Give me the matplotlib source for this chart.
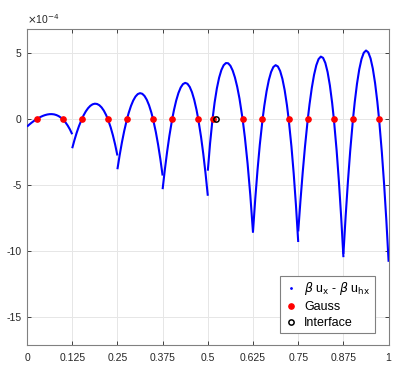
import matplotlib
matplotlib.use("Agg")
import matplotlib.pyplot as plt
from matplotlib.lines import Line2D

plt.rcParams['font.family'] = ['Liberation Sans', 'DejaVu Sans']

# element boundaries
elem_start = [0.0, 0.125, 0.25, 0.375, 0.5, 0.625, 0.75, 0.875]
elem_width = 0.125

# local sample positions (fraction of element) and error values (x 1e-4)
xi_std = [0, 0.05, 0.1, 0.15, 0.2113, 0.25, 0.3, 0.35, 0.4, 0.45, 0.5,
          0.55, 0.6, 0.65, 0.7, 0.75, 0.7887, 0.85, 0.9, 0.95, 1]
xi_e4 = [0, 0.05, 0.104, 0.15, 0.2, 0.25, 0.3, 0.35, 0.4, 0.45, 0.5,
         0.55, 0.6, 0.65, 0.7, 0.77, 0.82, 0.88, 0.94, 1]

err_e0 = [-0.56, -0.409, -0.269, -0.141, 0, 0.080, 0.171, 0.249, 0.310, 0.355, 0.380,
          0.383, 0.362, 0.312, 0.232, 0.116, 0, -0.237, -0.483, -0.782, -1.14]
err_e1 = [-2.2, -1.575, -1.016, -0.521, 0, 0.280, 0.587, 0.830, 1.010, 1.125, 1.173,
          1.151, 1.058, 0.890, 0.644, 0.314, 0, -0.611, -1.218, -1.929, -2.75]
err_e2 = [-3.79, -2.715, -1.751, -0.897, 0, 0.480, 1.003, 1.415, 1.714, 1.900, 1.970,
          1.923, 1.756, 1.467, 1.053, 0.510, 0, -0.976, -1.927, -3.024, -4.27]
err_e3 = [-5.3, -3.801, -2.453, -1.257, 0, 0.673, 1.406, 1.982, 2.399, 2.656, 2.75,
          2.680, 2.443, 2.037, 1.458, 0.705, 0, -1.339, -2.637, -4.122, -5.8]
err_e4 = [-3.9, -1.825, 0, 1.252, 2.330, 3.144, 3.721, 4.084, 4.250, 4.234, 4.043,
          3.684, 3.155, 2.453, 1.569, 0, -1.383, -3.367, -5.753, -8.6]
err_e5 = [-8.5, -6.008, -3.828, -1.939, 0, 1.020, 2.115, 2.966, 3.577, 3.951, 4.09,
          3.990, 3.647, 3.053, 2.198, 1.070, 0, -2.071, -4.122, -6.523, -9.3]
err_e6 = [-8.5, -6.147, -4.000, -2.066, 0, 1.123, 2.362, 3.352, 4.083, 4.548, 4.738,
          4.643, 4.255, 3.565, 2.565, 1.245, 0, -2.387, -4.717, -7.402, -10.45]
err_e7 = [-10.2, -7.301, -4.703, -2.406, 0, 1.284, 2.677, 3.766, 4.551, 5.030, 5.2,
          5.059, 4.604, 3.832, 2.739, 1.322, 0, -2.505, -4.924, -7.687, -10.8]

errors = [err_e0, err_e1, err_e2, err_e3, err_e4, err_e5, err_e6, err_e7]
xis = [xi_std, xi_std, xi_std, xi_std, xi_e4, xi_std, xi_std, xi_std]

gauss_x = [0.0264, 0.0986, 0.151, 0.224, 0.276, 0.349, 0.401, 0.474,
           0.513, 0.5963, 0.651, 0.724, 0.776, 0.849, 0.901, 0.974]
gauss_y = [0] * len(gauss_x)
interface_x = [0.523]
interface_y = [0]

xticks = [0, 0.125, 0.25, 0.375, 0.5, 0.625, 0.75, 0.875, 1]
xticklabels = ['0', '0.125', '0.25', '0.375', '0.5', '0.625', '0.75', '0.875', '1']
yticks = [-15, -10, -5, 0, 5]
yticklabels = ['-15', '-10', '-5', '0', '5']

fig = plt.figure(figsize=(3.99, 3.88), dpi=100)
ax = fig.add_axes([0.0677, 0.1108, 0.9063, 0.8152])

for k, (x0, xi, ev) in enumerate(zip(elem_start, xis, errors)):
    xs = [x0 + elem_width * v for v in xi]
    ax.plot(xs, ev, color=(0, 0, 1), lw=1.5, solid_capstyle='butt',
            solid_joinstyle='round', zorder=3)

ax.plot(gauss_x, gauss_y, 'o', color='red', ms=3.8, mec='red', ls='none', zorder=4)
ax.plot(interface_x, interface_y, 'o', mfc='none', mec='black', mew=1.1, ms=3.8,
        ls='none', zorder=5)

ax.set_xlim(0, 1)
ax.set_ylim(-17.1, 6.85)
ax.set_xticks(xticks)
ax.set_xticklabels(xticklabels)
ax.set_yticks(yticks)
ax.set_yticklabels(yticklabels)
ax.grid(True, color='#e6e6e6', lw=0.7)
ax.set_axisbelow(True)
ax.tick_params(direction='in', length=3, width=0.6, colors='#262626', labelsize=7.5,
               top=True, right=True, pad=4)
ax.tick_params(axis='x', pad=6)
for s in ax.spines.values():
    s.set_color('#808080')
    s.set_linewidth(0.8)

ax.text(0, 1.008, r'$\times$10$^{-4}$', transform=ax.transAxes, fontsize=7.5,
        color='#262626', ha='left', va='bottom')

handles = [
    Line2D([], [], marker='.', ms=2, color=(0, 0, 1), ls='none'),
    Line2D([], [], marker='o', ms=3.8, color='red', ls='none'),
    Line2D([], [], marker='o', ms=3.8, mfc='none', mec='black', mew=1.1, ls='none'),
]
labels = [r'$\beta$ u$_{\rm x}$ - $\beta$ u$_{\rm hx}$', 'Gauss', 'Interface']
leg = ax.legend(handles, labels, loc='lower right', bbox_to_anchor=(0.962, 0.037),
                fontsize=9, frameon=True, fancybox=False, edgecolor='#808080',
                framealpha=1, handlelength=1.0, handletextpad=0.6, borderpad=0.35,
                labelspacing=0.3, borderaxespad=0)
leg.get_frame().set_linewidth(0.8)

fig.savefig('out.png', dpi=100)
